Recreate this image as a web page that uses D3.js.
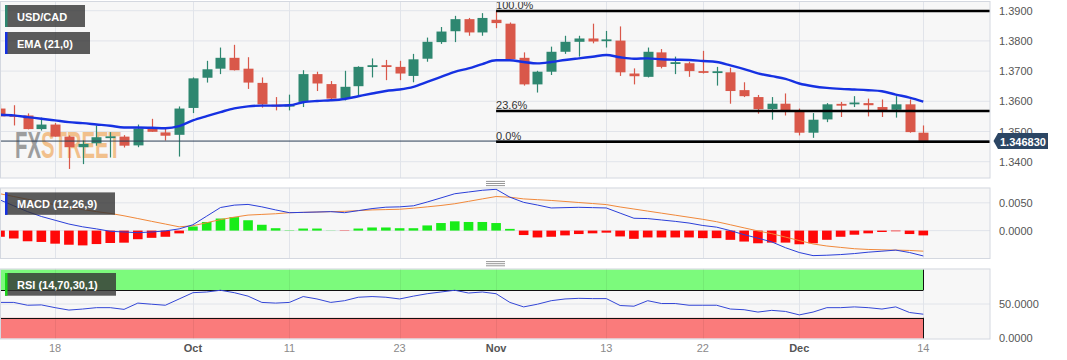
<!DOCTYPE html>
<html><head><meta charset="utf-8">
<script src="https://cdn.jsdelivr.net/npm/d3@7/dist/d3.min.js"></script>
<style>
html,body{margin:0;padding:0;background:#fff;}
svg{display:block;font-family:"Liberation Sans",Arial,sans-serif;}
</style>
</head><body>
<svg id="chart" width="1067" height="360"></svg>
<script>
// ---------- DATA ----------
const dates = [
"2023-09-12","2023-09-13","2023-09-14","2023-09-15","2023-09-18","2023-09-19","2023-09-20","2023-09-21","2023-09-22",
"2023-09-25","2023-09-26","2023-09-27","2023-09-28","2023-09-29",
"2023-10-02","2023-10-03","2023-10-04","2023-10-05","2023-10-06","2023-10-09","2023-10-10","2023-10-11","2023-10-12","2023-10-13",
"2023-10-16","2023-10-17","2023-10-18","2023-10-19","2023-10-20","2023-10-23","2023-10-24","2023-10-25","2023-10-26","2023-10-27",
"2023-10-30","2023-10-31","2023-11-01","2023-11-02","2023-11-03","2023-11-06","2023-11-07","2023-11-08","2023-11-09","2023-11-10",
"2023-11-13","2023-11-14","2023-11-15","2023-11-16","2023-11-17","2023-11-20","2023-11-21","2023-11-22","2023-11-23","2023-11-24",
"2023-11-27","2023-11-28","2023-11-29","2023-11-30","2023-12-01","2023-12-04","2023-12-05","2023-12-06","2023-12-07","2023-12-08",
"2023-12-11","2023-12-12","2023-12-13","2023-12-14"];

const open = [1.3576,1.3553,1.3553,1.3508,1.3523,1.3483,1.3448,1.3461,1.3479,1.3483,1.3454,1.3514,1.3497,1.3489,
1.3578,1.3678,1.3708,1.3744,1.3708,1.3661,1.3588,1.3583,1.3598,1.3690,1.3657,1.3611,1.3650,1.3715,1.3718,1.3714,
1.3684,1.3741,1.3796,1.3832,1.3872,1.3828,1.3870,1.3857,1.3744,1.3656,1.3698,1.3764,1.3797,1.3808,1.3801,1.3801,
1.3692,1.3681,1.3762,1.3725,1.3726,1.3699,1.3695,1.3696,1.3637,1.3614,1.3574,1.3592,1.3567,1.3496,1.3540,1.3590,
1.3592,1.3594,1.3581,1.3572,1.3590,1.3496];
const high = [1.3590,1.3587,1.3560,1.3546,1.3528,1.3487,1.3470,1.3520,1.3498,1.3488,1.3523,1.3542,1.3512,1.3583,
1.3679,1.3734,1.3778,1.3787,1.3746,1.3679,1.3614,1.3622,1.3703,1.3698,1.3667,1.3701,1.3716,1.3742,1.3737,1.3734,
1.3757,1.3811,1.3846,1.3883,1.3876,1.3892,1.3899,1.3861,1.3762,1.3701,1.3781,1.3817,1.3817,1.3857,1.3833,1.3848,
1.3709,1.3778,1.3773,1.3748,1.3731,1.3767,1.3714,1.3711,1.3663,1.3621,1.3614,1.3626,1.3576,1.3561,1.3594,1.3598,
1.3617,1.3609,1.3606,1.3617,1.3606,1.3520];
const low = [1.3548,1.3520,1.3507,1.3503,1.3483,1.3376,1.3392,1.3453,1.3414,1.3447,1.3448,1.3499,1.3470,1.3417,
1.3561,1.3662,1.3690,1.3702,1.3641,1.3579,1.3570,1.3570,1.3581,1.3634,1.3603,1.3603,1.3620,1.3679,1.3670,1.3670,
1.3663,1.3731,1.3790,1.3796,1.3817,1.3817,1.3842,1.3740,1.3652,1.3629,1.3687,1.3757,1.3748,1.3792,1.3778,1.3684,
1.3656,1.3679,1.3709,1.3690,1.3681,1.3692,1.3652,1.3592,1.3614,1.3559,1.3539,1.3553,1.3487,1.3479,1.3531,1.3548,
1.3581,1.3550,1.3548,1.3546,1.3496,1.3462];
const close = [1.3550,1.3550,1.3508,1.3523,1.3483,1.3448,1.3459,1.3481,1.3483,1.3453,1.3510,1.3499,1.3486,1.3576,
1.3676,1.3706,1.3744,1.3703,1.3662,1.3590,1.3583,1.3588,1.3690,1.3659,1.3609,1.3648,1.3714,1.3718,1.3715,1.3692,
1.3739,1.3797,1.3831,1.3872,1.3828,1.3876,1.3859,1.3740,1.3656,1.3698,1.3764,1.3797,1.3808,1.3798,1.3803,1.3696,
1.3683,1.3764,1.3714,1.3728,1.3700,1.3695,1.3698,1.3634,1.3617,1.3574,1.3592,1.3570,1.3496,1.3539,1.3590,1.3587,
1.3594,1.3587,1.3570,1.3590,1.3498,1.34683];

const ema21 = [1.35557,1.35533,1.35477,1.35423,1.35367,1.35310,1.35277,1.35233,1.35190,1.35133,1.35133,1.35123,1.35110,
1.35177,1.35367,1.35510,1.35643,1.35767,1.35833,1.35857,1.35857,1.35867,1.35967,1.36010,1.36033,
1.36077,1.36167,1.36257,1.36343,1.36390,1.36477,1.36643,1.36810,1.36977,1.37090,1.37233,1.37357,
1.37357,1.37300,1.37257,1.37300,1.37367,1.37423,1.37477,1.37533,1.37457,1.37410,1.37423,1.37390,
1.37377,1.37367,1.37333,1.37300,1.37190,1.37067,1.36923,1.36833,1.36743,1.36590,1.36500,1.36443,
1.36410,1.36390,1.36367,1.36333,1.36223,1.36123,1.35990];

const macdLine = [0.00551,0.00446,0.00341,0.00254,0.00186,0.00118,0.00068,0.00031,-0.00012,-0.00025,-0.00037,-0.00025,-0.00006,
0.00031,0.00105,0.00260,0.00415,0.00458,0.00471,0.00427,0.00372,0.00322,0.00328,0.00334,0.00341,0.00322,0.00359,0.00396,
0.00421,0.00427,0.00446,0.00514,0.00588,0.00663,0.00694,0.00725,0.00743,0.00601,0.00508,0.00460,
0.00407,0.00413,0.00419,0.00413,0.00407,0.00314,0.00222,0.00216,0.00191,0.00166,0.00136,0.00092,0.00062,0.00000,
-0.00074,-0.00136,-0.00203,-0.00308,-0.00394,-0.00450,-0.00443,-0.00431,-0.00413,-0.00388,-0.00370,-0.00351,-0.00394,-0.00456];
const signalLine = [0.00663,0.00613,0.00564,0.00514,0.00465,0.00415,0.00378,0.00341,0.00310,0.00266,0.00217,0.00167,0.00118,
0.00068,0.00087,0.00142,0.00198,0.00242,0.00279,0.00291,0.00303,0.00322,0.00328,0.00334,0.00341,0.00347,0.00359,0.00372,
0.00378,0.00384,0.00403,0.00427,0.00452,0.00483,0.00526,0.00570,0.00613,0.00601,0.00570,0.00556,
0.00542,0.00524,0.00505,0.00487,0.00468,0.00425,0.00388,0.00351,0.00314,0.00277,0.00240,0.00203,0.00160,0.00105,
0.00049,-0.00006,-0.00055,-0.00117,-0.00179,-0.00240,-0.00277,-0.00302,-0.00326,-0.00339,-0.00345,-0.00351,-0.00357,-0.00370];
const macdHist = [-0.00111,-0.00142,-0.00192,-0.00204,-0.00235,-0.00254,-0.00266,-0.00242,-0.00223,-0.00217,-0.00155,-0.00130,-0.00111,
-0.00050,0.00074,0.00155,0.00217,0.00242,0.00186,0.00105,0.00043,0.00006,0.00037,0.00037,0.00003,-0.00006,0.00037,0.00056,
0.00056,0.00043,0.00043,0.00093,0.00136,0.00167,0.00155,0.00155,0.00136,0.00031,-0.00080,-0.00123,
-0.00111,-0.00086,-0.00062,-0.00049,-0.00037,-0.00105,-0.00148,-0.00123,-0.00123,-0.00123,-0.00123,-0.00136,-0.00136,-0.00166,
-0.00197,-0.00228,-0.00216,-0.00216,-0.00246,-0.00228,-0.00166,-0.00111,-0.00074,-0.00049,-0.00025,-0.00012,-0.00062,-0.00086];

const rsi14 = [52.3,52.3,48.2,48.7,44.7,41.2,42.7,44.7,44.7,42.2,51.3,49.7,48.2,57.3,66.4,67.4,69.9,66.4,61.4,52.3,
51.3,52.3,60.8,57.3,52.3,54.8,59.8,60.8,59.8,57.3,61.4,64.9,67.4,69.9,65.9,67.4,64.9,52.3,45.8,49.7,
54.8,57.3,58.2,57.8,57.8,47.8,46.8,54.8,50.7,50.7,48.2,48.2,48.2,42.7,41.7,38.3,40.8,39.2,34.2,38.3,
44.7,44.7,45.8,44.7,42.7,45.8,37.7,35.2];

const tickDates  = ["2023-09-18","2023-10-02","2023-10-11","2023-10-23","2023-11-01","2023-11-13","2023-11-22","2023-12-01","2023-12-14"];
const tickLabels = ["18","Oct","11","23","Nov","13","22","Dec","14"];
const monthTicks = ["Oct","Nov","Dec"];

const priceTicks = [1.34,1.35,1.36,1.37,1.38,1.39];
const macdTicks = [0,0.005];
const rsiTicks = [0,50];
const lastPrice = 1.34683;

const fibHigh = 1.3899, fibLow = 1.3466, fibStart = "2023-11-01";
const fibRatios = [1, 0.236, 0];
const fibLabels = ["100.0%","23.6%","0.0%"];
const rsiUpper = 70, rsiLower = 30;

// ---------- LAYOUT ----------
const svg = d3.select("#chart");
const plotR = 990;
const P = {main:{t:1,b:178}, macd:{t:187.5,b:258.5}, rsi:{t:268.5,b:339}};
const idx = d => dates.indexOf(d);
const x = d3.scaleLinear().domain([0, 71.84]).range([0, plotR]);
const yP = d3.scaleLinear().domain([1.34, 1.39]).range([161.7, 10.7]);
const yM = d3.scaleLinear().domain([0, 0.005]).range([230.6, 202.8]);
const yR = d3.scaleLinear().domain([0, 100]).range([338.5, 269.5]);

const GREEN = "#2e8770", RED = "#d9584a";
const defs = svg.append("defs");
Object.entries(P).forEach(([k,p])=>{
  defs.append("clipPath").attr("id","clip-"+k).append("rect")
    .attr("x",0).attr("y",p.t).attr("width",plotR).attr("height",p.b-p.t);
});
const wmGrad = defs.append("linearGradient").attr("id","wmGrad")
  .attr("x1",0).attr("x2",1).attr("y1",0).attr("y2",0);
wmGrad.append("stop").attr("offset","24.5%").attr("stop-color","#9d9d9d");
wmGrad.append("stop").attr("offset","24.5%").attr("stop-color","#f1c08c");

// panel backgrounds & grids
Object.entries(P).forEach(([k,p])=>{
  svg.append("rect").attr("x",0.5).attr("y",p.t).attr("width",plotR-0.5).attr("height",p.b-p.t)
    .attr("fill","#f7f7f7");
  const g = svg.append("g").attr("clip-path","url(#clip-"+k+")");
  tickDates.forEach(d=>{
    const xx = Math.round(x(idx(d)))+0.5;
    g.append("line").attr("x1",xx).attr("x2",xx).attr("y1",p.t).attr("y2",p.b)
      .attr("stroke","#e1e4ea").attr("stroke-width",1);
  });
  let hs = k==="main" ? priceTicks.map(yP) : k==="macd" ? macdTicks.map(yM) : [yR(50)];
  hs.forEach(yy=>{
    g.append("line").attr("x1",0).attr("x2",plotR).attr("y1",yy).attr("y2",yy)
      .attr("stroke","#e1e4ea").attr("stroke-width",1);
  });
});

// ---------- MAIN PANEL ----------
const gm = svg.append("g").attr("clip-path","url(#clip-main)");
// watermark: a single text, two colours through a hard-stop gradient
gm.append("text").attr("x",15).attr("y",158.3).attr("font-size",36).attr("font-weight","bold")
  .attr("textLength",106).attr("lengthAdjust","spacingAndGlyphs").attr("fill","url(#wmGrad)").text("FXSTREET");

// candles
dates.forEach((d,i)=>{
  const col = close[i] >= open[i] ? GREEN : RED;
  const cx = Math.round(x(i))+0.5;
  gm.append("line").attr("x1",cx).attr("x2",cx).attr("y1",yP(high[i])).attr("y2",yP(low[i]))
    .attr("stroke",col).attr("stroke-width",1.2);
  const y0 = yP(Math.max(open[i],close[i])), y1 = yP(Math.min(open[i],close[i]));
  const h = Math.max(1.8, y1-y0);
  gm.append("rect").attr("x",cx-5).attr("y",(y0+y1)/2-h/2).attr("width",10).attr("height",h).attr("fill",col);
});

// current price line
gm.append("line").attr("x1",0).attr("x2",plotR).attr("y1",yP(lastPrice)).attr("y2",yP(lastPrice))
  .attr("stroke","#2c3e55").attr("stroke-width",1);

// EMA
gm.append("path").datum(ema21)
  .attr("d", d3.line().x((v,i)=>x(i)).y(v=>yP(v)).curve(d3.curveMonotoneX))
  .attr("fill","none").attr("stroke","#1631e2").attr("stroke-width",2.4);

// Fibonacci
const fx0 = x(idx(fibStart));
fibRatios.forEach((r,j)=>{
  const yy = yP(fibLow + r*(fibHigh-fibLow));
  gm.append("line").attr("x1",fx0).attr("x2",plotR).attr("y1",yy).attr("y2",yy)
    .attr("stroke","#000").attr("stroke-width",2.5);
  gm.append("text").attr("x",fx0).attr("y",yy-2.2).attr("font-size",11).attr("fill","#333").text(fibLabels[j]);
});

// ---------- MACD PANEL ----------
const gd = svg.append("g").attr("clip-path","url(#clip-macd)");
macdHist.forEach((v,i)=>{
  const y0 = yM(0), y1 = yM(v);
  gd.append("rect").attr("x",x(i)-4.8).attr("width",9.6)
    .attr("y",Math.min(y0,y1)).attr("height",Math.abs(y1-y0))
    .attr("fill", v>=0 ? "#19ec19" : "#ff0808");
});
gd.append("path").datum(signalLine)
  .attr("d", d3.line().x((v,i)=>x(i)).y(v=>yM(v)))
  .attr("fill","none").attr("stroke","#f0883a").attr("stroke-width",1);
gd.append("path").datum(macdLine)
  .attr("d", d3.line().x((v,i)=>x(i)).y(v=>yM(v)))
  .attr("fill","none").attr("stroke","#2b3fd8").attr("stroke-width",1);

// ---------- RSI PANEL ----------
const gr = svg.append("g").attr("clip-path","url(#clip-rsi)");
const bandR = x(dates.length-1);
gr.append("rect").attr("x",0).attr("y",yR(100)).attr("width",bandR).attr("height",yR(rsiUpper)-yR(100))
  .attr("fill","#7cfa7c");
gr.append("rect").attr("x",0).attr("y",yR(rsiLower)).attr("width",bandR).attr("height",yR(0)-yR(rsiLower))
  .attr("fill","#fa7b7b");
tickDates.forEach(d=>{
  const xx = Math.round(x(idx(d)))+0.5;
  [[100,rsiUpper],[rsiLower,0]].forEach(([a,b])=>{
    gr.append("line").attr("x1",xx).attr("x2",xx).attr("y1",yR(a)).attr("y2",yR(b))
      .attr("stroke","#000").attr("stroke-opacity",0.06);
  });
});
[rsiUpper, rsiLower].forEach(v=>{
  gr.append("line").attr("x1",0).attr("x2",bandR).attr("y1",Math.round(yR(v))+0.5).attr("y2",Math.round(yR(v))+0.5)
    .attr("stroke","#111").attr("stroke-width",1);
});
[0, bandR].forEach(xx=>{
  [[100,rsiUpper],[rsiLower,0]].forEach(([a,b])=>{
    gr.append("line").attr("x1",Math.round(xx)+0.5).attr("x2",Math.round(xx)+0.5).attr("y1",yR(a)).attr("y2",yR(b))
      .attr("stroke","#111").attr("stroke-width",1);
  });
});
gr.append("path").datum(rsi14)
  .attr("d", d3.line().x((v,i)=>x(i)).y(v=>yR(v)))
  .attr("fill","none").attr("stroke","#3346d6").attr("stroke-width",1);

// panel borders
Object.values(P).forEach(p=>{
  svg.append("rect").attr("x",0.5).attr("y",p.t+0.5).attr("width",plotR-0.5).attr("height",p.b-p.t-0.5)
    .attr("fill","none").attr("stroke","#d4d8e0").attr("stroke-width",1);
});

// grip handles
[181.4, 261.6].forEach(y0=>{
  for(let k=0;k<3;k++){
    svg.append("line").attr("x1",486).attr("x2",505).attr("y1",y0+k*2.1).attr("y2",y0+k*2.1)
      .attr("stroke","#8a8a8a").attr("stroke-width",0.9);
  }
});

// ---------- AXES ----------
const axT = svg.append("g").attr("font-size",11).attr("fill","#555");
priceTicks.forEach(v=>{
  axT.append("text").attr("x",999).attr("y",yP(v)).attr("dominant-baseline","central").text(v.toFixed(4));
});
macdTicks.forEach(v=>{
  axT.append("text").attr("x",999).attr("y",yM(v)).attr("dominant-baseline","central").text(v.toFixed(4));
});
rsiTicks.forEach(v=>{
  axT.append("text").attr("x",999).attr("y",yR(v)-0.5).attr("dominant-baseline","central").text(v.toFixed(4));
});
tickDates.forEach((d,j)=>{
  const m = monthTicks.includes(tickLabels[j]);
  svg.append("text").attr("x",x(idx(d))).attr("y",348).attr("text-anchor","middle")
    .attr("dominant-baseline","central").attr("font-size",11)
    .attr("font-weight", m ? "bold" : "normal").attr("fill", m ? "#555" : "#8a8a8a").text(tickLabels[j]);
});

// price tag
const yc = yP(lastPrice);
svg.append("path").attr("d",`M993.5,${yc} L998,${yc-8} L1048,${yc-8} L1048,${yc+8} L998,${yc+8} Z`)
  .attr("fill","#2c4664");
svg.append("text").attr("x",1000).attr("y",yc+0.5).attr("dominant-baseline","central")
  .attr("font-size",11).attr("font-weight","bold").attr("fill","#fff").text(lastPrice.toFixed(6));

// ---------- LEGEND BOXES ----------
function legend(x0,y0,w,h,label,barColor){
  svg.append("rect").attr("x",x0).attr("y",y0).attr("width",w).attr("height",h).attr("fill","#333").attr("fill-opacity",0.8);
  svg.append("rect").attr("x",x0).attr("y",y0).attr("width",2.5).attr("height",h).attr("fill",barColor);
  svg.append("text").attr("x",x0+12).attr("y",y0+h/2+0.5).attr("dominant-baseline","central")
    .attr("font-size",11).attr("font-weight","bold").attr("fill","#fff").text(label);
}
legend(5,5,80,22,"USD/CAD",GREEN);
legend(5,32,85,22,"EMA (21,0)","#1631e2");
legend(5,192.4,110,22.4,"MACD (12,26,9)","#1631e2");
legend(5,273,111,22.7,"RSI (14,70,30,1)","#1ad61a");
</script>
</body></html>
